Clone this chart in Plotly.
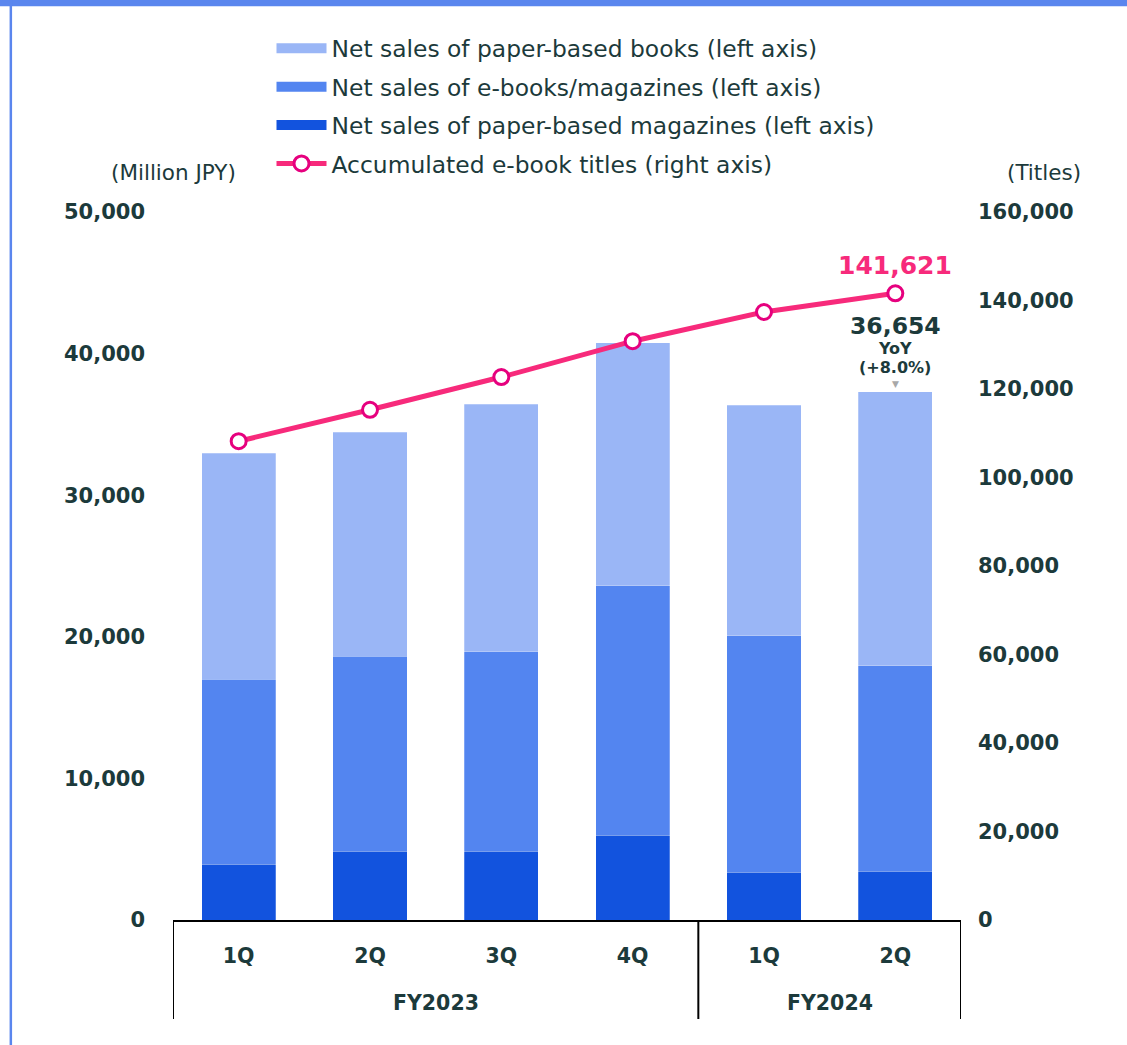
import plotly.graph_objects as go

fiscal_years = ["FY2023", "FY2023", "FY2023", "FY2023", "FY2024", "FY2024"]
quarters = ["1Q", "2Q", "3Q", "4Q", "1Q", "2Q"]

# Million JPY
paper_magazines = [3950, 4870, 4870, 6000, 3390, 3460]
ebooks_magazines = [13070, 13770, 14060, 17590, 16670, 14480]
paper_books = [15960, 15820, 17510, 17160, 16310, 19350]
# titles
ebook_titles = [108200, 115300, 122700, 130800, 137400, 141621]

TEXT = "#1c3a3b"
C_BOOKS = "#9ab6f6"
C_EBOOKS = "#5385f0"
C_MAGS = "#1253de"
C_LINE = "#f72a7b"
C_MARK = "#e6007e"
FONT = "DejaVu Sans"

idx = list(range(len(quarters)))

fig = go.Figure()

bar_series = [
    ("Net sales of paper-based magazines (left axis)", paper_magazines, C_MAGS),
    ("Net sales of e-books/magazines (left axis)", ebooks_magazines, C_EBOOKS),
    ("Net sales of paper-based books (left axis)", paper_books, C_BOOKS),
]
for name, vals, col in bar_series:
    fig.add_trace(go.Bar(
        x=idx, y=vals, name=name, marker=dict(color=col, line=dict(width=0.5, color="rgba(255,255,255,0.5)")),
        showlegend=False, yaxis="y",
    ))

fig.add_trace(go.Scatter(
    x=idx, y=ebook_titles, yaxis="y2", mode="lines+markers",
    line=dict(color=C_LINE, width=5),
    marker=dict(size=15, color="white", line=dict(color=C_MARK, width=3)),
    showlegend=False,
))

# legend entries (wide swatches like the original)
for i, (name, vals, col) in enumerate(reversed(bar_series)):
    fig.add_trace(go.Scatter(
        x=[None], y=[None], mode="lines", name=name,
        line=dict(color=col, width=14), legendgroup=f"g{i}",
    ))
fig.add_trace(go.Scatter(
    x=[None], y=[None], mode="lines+markers", name="Accumulated e-book titles (right axis)",
    line=dict(color=C_LINE, width=5), legendgroup="g3",
    marker=dict(size=15, color="white", line=dict(color=C_MARK, width=3)),
))

# labels on the last quarter
last = idx[-1]
total_last = paper_magazines[last] + ebooks_magazines[last] + paper_books[last]
fig.add_annotation(x=last, y=ebook_titles[last], yref="y2", text="<b>141,621</b>",
                   showarrow=False, yshift=28, font=dict(size=25, color=C_LINE, family=FONT))
fig.add_annotation(x=last, y=total_last, yref="y", text="<b>36,654</b>",
                   showarrow=False, yshift=66, font=dict(size=23.5, color=TEXT, family=FONT))
fig.add_annotation(x=last, y=total_last, yref="y", text="<b>YoY</b>",
                   showarrow=False, yshift=43, font=dict(size=16, color=TEXT, family=FONT))
fig.add_annotation(x=last, y=total_last, yref="y", text="<b>(+8.0%)</b>",
                   showarrow=False, yshift=24, font=dict(size=16, color=TEXT, family=FONT))
fig.add_annotation(x=last, y=total_last, yref="y", text="▼",
                   showarrow=False, yshift=8, font=dict(size=9, color="#a8a8a8", family=FONT))

# fiscal year group labels and dividers
groups = []
for i, fy in enumerate(fiscal_years):
    if groups and groups[-1][0] == fy:
        groups[-1][2] = i
    else:
        groups.append([fy, i, i])
for fy, start, end in groups:
    fig.add_annotation(x=(start + end) / 2, y=-83 / 708, yref="paper", text=f"<b>{fy}</b>",
                       showarrow=False, yanchor="middle",
                       font=dict(size=20.5, color=TEXT, family=FONT))
bounds = [groups[0][1] - 0.5] + [g[2] + 0.5 for g in groups]
for b in bounds:
    fig.add_shape(type="line", x0=b, x1=b, xref="x", yref="paper", y0=0, y1=-99 / 708,
                  line=dict(color="black", width=2))

# axis unit labels
fig.add_annotation(xref="paper", yref="paper", x=0.0, y=1.0, yshift=54, xanchor="center",
                   text="(Million JPY)", showarrow=False, font=dict(size=21.5, color=TEXT, family=FONT))
fig.add_annotation(xref="paper", yref="paper", x=1.1055, y=1.0, yshift=54, xanchor="center",
                   text="(Titles)", showarrow=False, font=dict(size=21.5, color=TEXT, family=FONT))

# blue frame
fig.add_shape(type="rect", xref="paper", yref="paper", x0=-0.25, x1=1.25, y0=1.2905, y1=1.31,
              fillcolor="#5a86ee", line=dict(width=0), layer="above")
fig.add_shape(type="line", xref="paper", yref="paper", x0=-0.2058, x1=-0.2058, y0=-0.2, y1=1.3,
              line=dict(color="#5a86ee", width=2.5), layer="above")

fig.update_layout(
    width=1127, height=1045,
    margin=dict(l=173, r=166, t=212, b=125),
    paper_bgcolor="white", plot_bgcolor="white",
    font=dict(family=FONT, color=TEXT, size=20),
    barmode="stack", bargap=0.435,
    showlegend=True,
    legend=dict(x=0.125, y=1.262, xanchor="left", yanchor="top", traceorder="grouped",
                tracegroupgap=5, font=dict(size=23.4, color=TEXT), itemwidth=50,
                bgcolor="rgba(0,0,0,0)"),
    xaxis=dict(tickmode="array", tickvals=idx, ticktext=quarters,
               showline=True, linecolor="black", linewidth=2,
               tickfont=dict(size=20.5, color=TEXT, family=FONT, weight="bold"),
               ticklabelstandoff=16,
               range=[-0.5, 5.5], showgrid=False, zeroline=False),
    yaxis=dict(range=[0, 50000], dtick=10000, tickformat=",d", showgrid=False, zeroline=False,
               tickfont=dict(size=21, color=TEXT, family=FONT, weight="bold"),
               ticklabelstandoff=27),
    yaxis2=dict(range=[0, 160000], dtick=20000, tickformat=",d", showgrid=False, zeroline=False,
                overlaying="y", side="right",
                tickfont=dict(size=21, color=TEXT, family=FONT, weight="bold"),
                ticklabelstandoff=16),
)

fig.write_html("out.html", config={"displayModeBar": False},
               post_script="document.body.style.margin='0';")
